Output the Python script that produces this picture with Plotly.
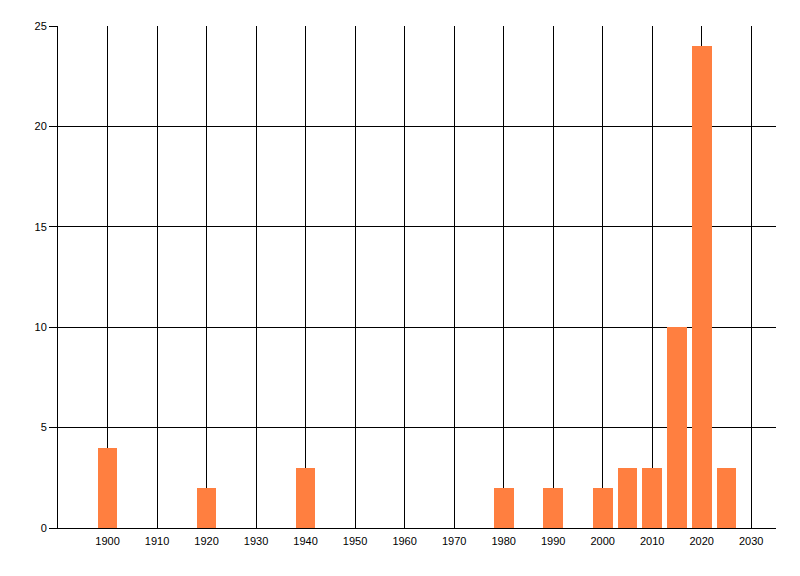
import plotly.graph_objects as go

years = [1900, 1920, 1940, 1980, 1990, 2000, 2005, 2010, 2015, 2020, 2025]
counts = [4, 2, 3, 2, 2, 2, 3, 3, 10, 24, 3]

x_ticks = [1900, 1910, 1920, 1930, 1940, 1950, 1960, 1970, 1980, 1990, 2000, 2010, 2020, 2030]
y_ticks = [0, 5, 10, 15, 20, 25]

fig = go.Figure()
fig.add_trace(go.Bar(
    x=years, y=counts, width=4,
    marker=dict(color='#ff7f40', line=dict(width=0)),
    showlegend=False
))

axis_font = dict(family='Liberation Sans, Arial, sans-serif', size=11, color='black')

# page body has an 8px margin, so the figure is a bit smaller than the window
fig.update_layout(
    width=792, height=568,
    margin=dict(l=50, r=24, t=18, b=48),
    paper_bgcolor='white', plot_bgcolor='white',
    font=axis_font,
    xaxis=dict(
        range=[1890, 2035], tickvals=x_ticks, ticktext=[str(v) for v in x_ticks],
        showgrid=True, gridcolor='black', gridwidth=1,
        showline=True, linecolor='black', linewidth=1,
        ticks='', zeroline=False, tickfont=axis_font,
        ticklabelstandoff=3
    ),
    yaxis=dict(
        range=[0, 25], tickvals=y_ticks,
        showgrid=True, gridcolor='black', gridwidth=1,
        showline=True, linecolor='black', linewidth=1,
        ticks='outside', ticklen=8, tickcolor='black',
        zeroline=False, tickfont=axis_font
    ),
    bargap=0
)

fig.write_html("out.html")
